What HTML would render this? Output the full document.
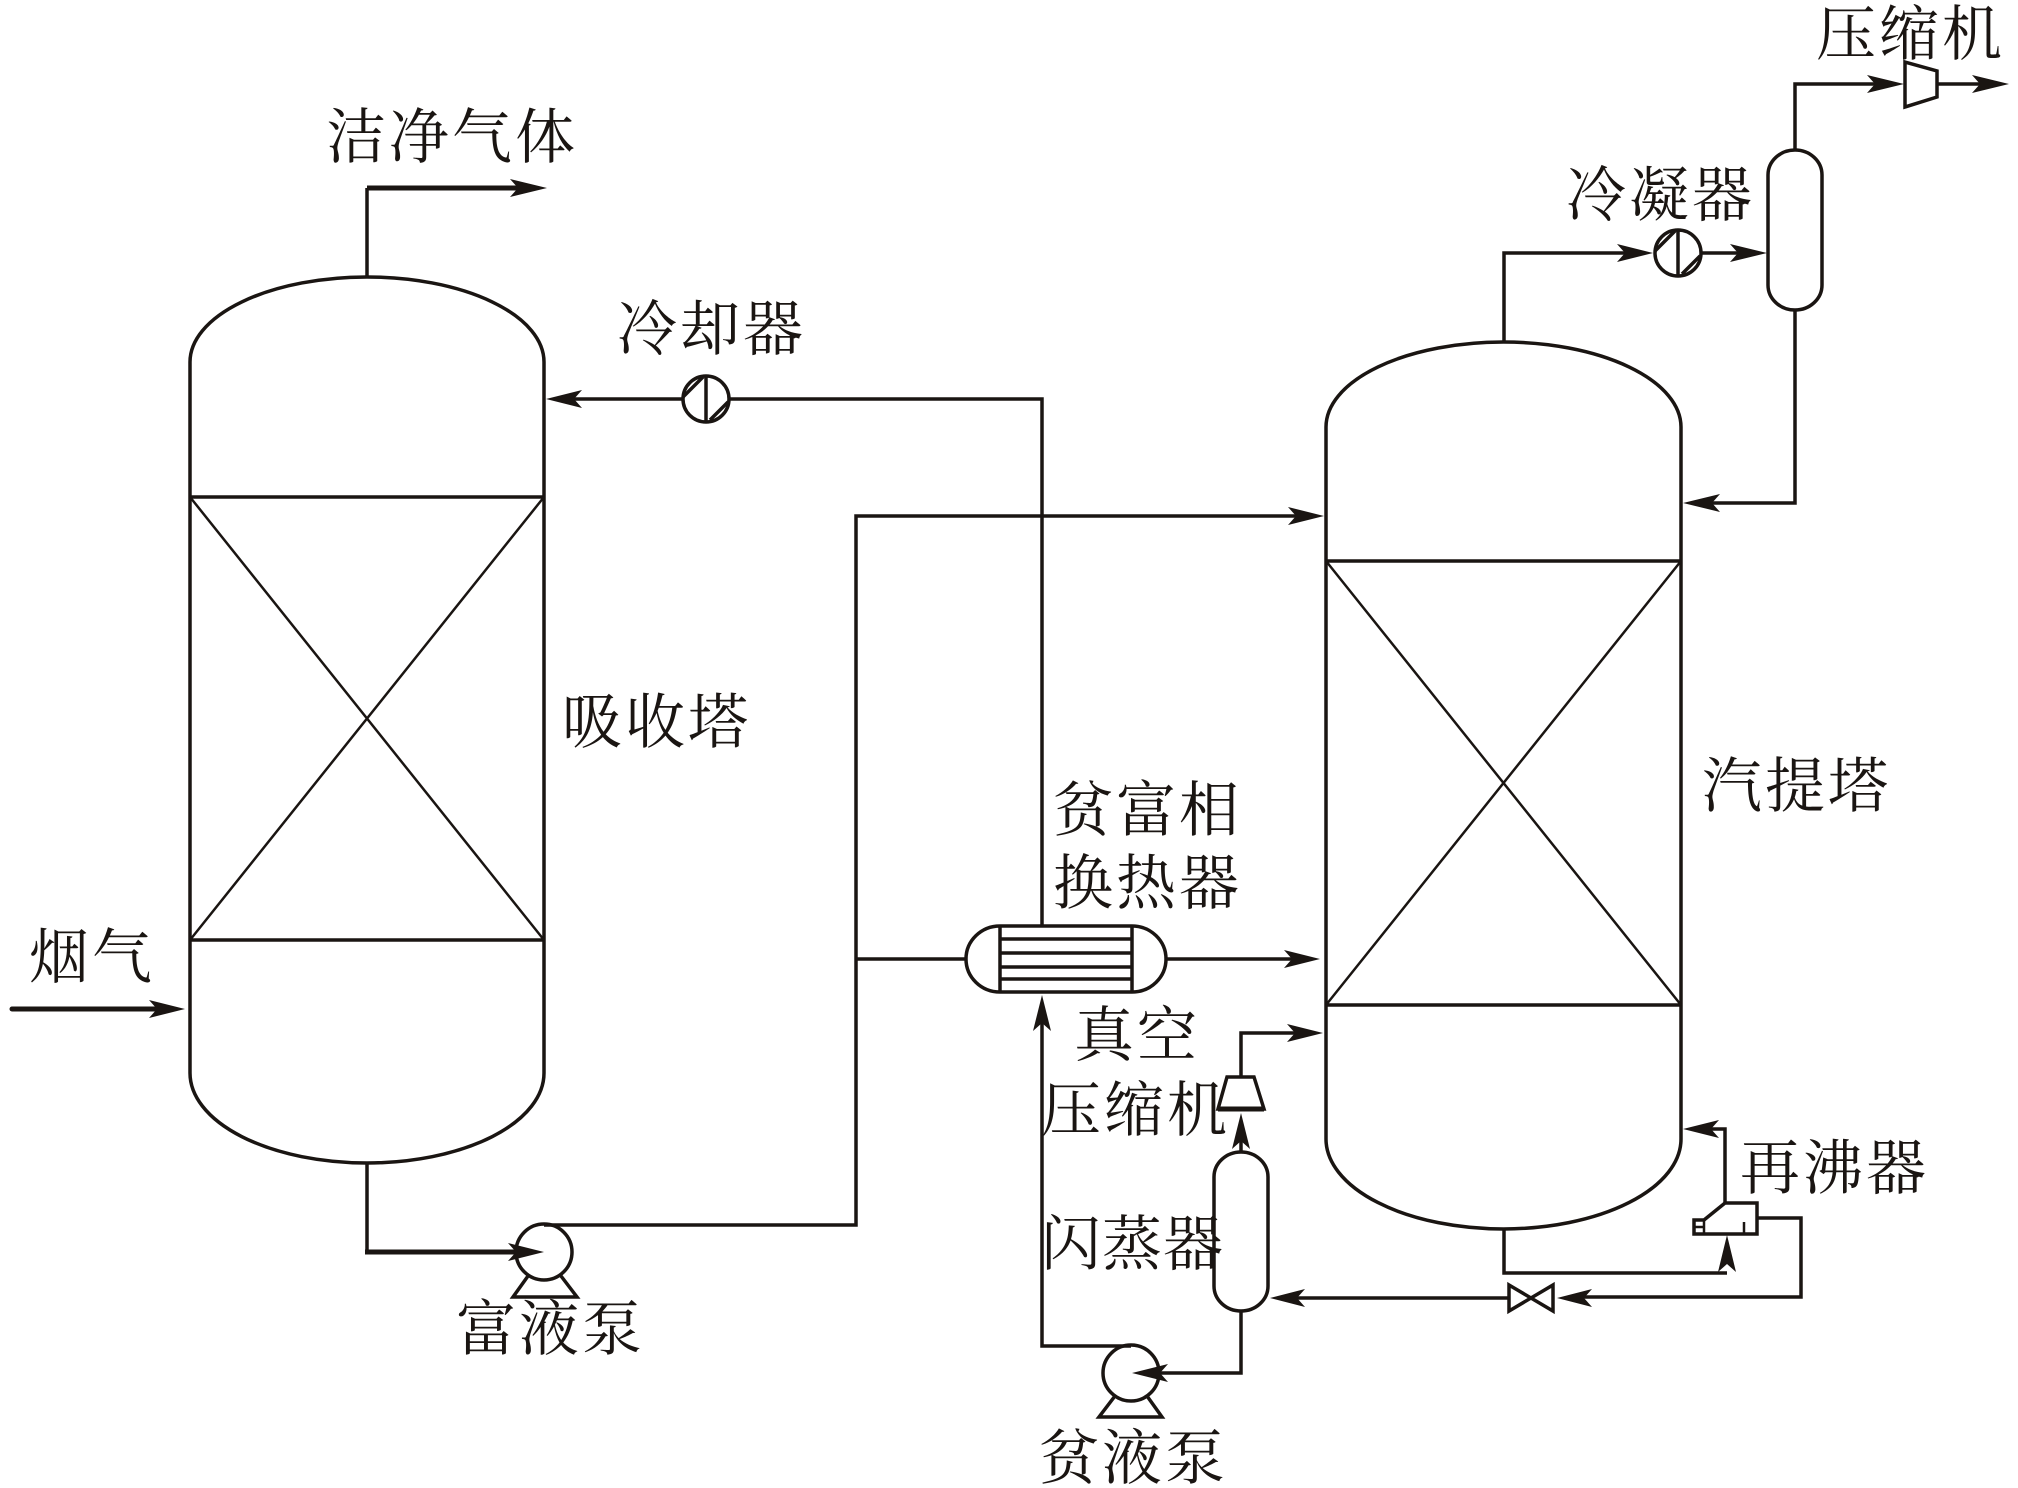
<!DOCTYPE html>
<html>
<head>
<meta charset="utf-8">
<style>
html,body{margin:0;padding:0;background:#fff;}
svg{display:block;}
text{font-family:"Liberation Serif","Noto Serif CJK SC",serif;font-size:60px;letter-spacing:3px;fill:#1a1512;}
.l{fill:none;stroke:#1a1512;stroke-width:3.5;}
.t{fill:none;stroke:#1a1512;stroke-width:2.5;}
.b{fill:none;stroke:#1a1512;stroke-width:5;}
polygon.a{fill:#1a1512;stroke:none;}
</style>
</head>
<body>
<svg width="2018" height="1488" viewBox="0 0 2018 1488" xmlns="http://www.w3.org/2000/svg">
<rect width="2018" height="1488" fill="#fff"/>

<!-- absorber -->
<path class="l" d="M190,362 A177,85 0 0 1 544,362 V1073 A177,90 0 0 1 190,1073 Z"/>
<path class="l" d="M190,497 H544 M190,940 H544"/>
<path class="t" d="M190,497 L544,940 M544,497 L190,940"/>

<!-- stripper -->
<path class="l" d="M1326,427 A177.5,85 0 0 1 1681,427 V1139 A177.5,90 0 0 1 1326,1139 Z"/>
<path class="l" d="M1326,561 H1681 M1326,1005 H1681"/>
<path class="t" d="M1326,561 L1681,1005 M1681,561 L1326,1005"/>

<!-- clean gas -->
<path class="l" d="M367,277 V188"/>
<path class="b" d="M367,188 H520"/>

<!-- flue gas -->
<path class="b" stroke-linecap="round" d="M12,1009 H160"/>

<!-- rich line -->
<path class="l" d="M367,1163 V1252"/>
<path class="b" d="M365,1252 H520"/>
<path class="l" d="M544,1225 H856 V516 H1300"/>
<path class="l" d="M856,959 H966"/>

<!-- rich pump -->
<circle class="l" cx="544" cy="1252" r="28"/>
<path class="l" d="M528,1276 L513,1297 H577 L561,1276"/>

<!-- cooler line -->
<path class="l" d="M570,399 H683 M729,399 H1042 V926"/>
<circle class="l" cx="706" cy="399" r="23"/>
<path class="l" d="M706,376 V422 M683,397 L703,377 M710,420 L728,402"/>

<!-- heat exchanger -->
<path class="l" d="M1000,926 H1132 A34,33 0 0 1 1132,992 H1000 A34,33 0 0 1 1000,926 Z"/>
<path class="l" d="M1000,926 V992 M1132,926 V992"/>
<path class="l" d="M1000,939 H1132 M1000,953 H1132 M1000,967 H1132 M1000,979 H1132"/>
<path class="l" d="M1166,959 H1295"/>

<!-- lean line -->
<path class="l" d="M1042,1020 V1346 H1131"/>
<circle class="l" cx="1131" cy="1373" r="28"/>
<path class="l" d="M1115,1396 L1099,1417 H1162 L1147,1396"/>
<path class="l" d="M1160,1373 H1241 V1311"/>

<!-- flash drum -->
<path class="l" d="M1214,1177 A27,25 0 0 1 1268,1177 V1286 A27,25 0 0 1 1214,1286 Z"/>
<path class="l" d="M1241,1152 V1135"/>

<!-- vacuum compressor -->
<path class="l" d="M1227,1077 H1254 L1264,1109 H1218 Z"/>
<path class="b" d="M1218,1109 H1264"/>
<path class="l" d="M1241,1077 V1033 H1300"/>

<!-- stripper bottom, reboiler -->
<path class="l" d="M1504,1229 V1273 H1727"/>
<path class="l" d="M1725,1203 H1757 V1234 H1694 V1220 H1704 Z"/>
<path class="t" d="M1704,1220 V1234 M1694,1227 H1704 M1744,1222 V1234"/>
<path class="l" d="M1725,1203 V1129 H1700"/>
<path class="l" d="M1757,1218 H1801 V1297 H1575"/>
<path class="l" d="M1508,1298 H1290"/>

<!-- valve -->
<path class="l" d="M1509,1285 L1553,1311 V1285 L1509,1311 Z"/>

<!-- stripper top, condenser -->
<path class="l" d="M1504,342 V253 H1630"/>
<circle class="l" cx="1678" cy="253" r="23"/>
<path class="l" d="M1678,230 V276 M1655,251 L1675,231 M1682,274 L1700,256"/>
<path class="l" d="M1701,253 H1740"/>
<path class="l" d="M1768,175 A27,25 0 0 1 1822,175 V285 A27,25 0 0 1 1768,285 Z"/>
<path class="l" d="M1795,150 V84 H1880"/>
<path class="l" d="M1795,310 V503 H1700"/>

<!-- top compressor -->
<path class="l" d="M1905,62 L1937,71 V97 L1905,107 Z"/>
<path class="l" d="M1937,84 H1985"/>

<!-- arrowheads -->
<polygon class="a" points="547,188 510,179 518,188 510,197"/>
<polygon class="a" points="546,399 582,390 574,399 582,408"/>
<polygon class="a" points="1324,516 1288,507 1296,516 1288,525"/>
<polygon class="a" points="185,1009 149,1000 157,1009 149,1018"/>
<polygon class="a" points="544,1252 508,1243 516,1252 508,1261"/>
<polygon class="a" points="1320,959 1284,950 1292,959 1284,968"/>
<polygon class="a" points="1323,1033 1287,1024 1295,1033 1287,1042"/>
<polygon class="a" points="1042,995 1033,1031 1042,1023 1051,1031"/>
<polygon class="a" points="1241,1113 1232,1149 1241,1141 1250,1149"/>
<polygon class="a" points="1683,503 1720,494 1712,503 1720,512"/>
<polygon class="a" points="1683,1129 1719,1120 1711,1129 1719,1138"/>
<polygon class="a" points="1727,1235 1718,1272 1727,1264 1736,1272"/>
<polygon class="a" points="1557,1298 1592,1289 1584,1298 1592,1307"/>
<polygon class="a" points="1270,1298 1305,1289 1297,1298 1305,1307"/>
<polygon class="a" points="1132,1373 1168,1364 1160,1373 1168,1382"/>
<polygon class="a" points="1653,253 1617,244 1625,253 1617,262"/>
<polygon class="a" points="1767,253 1730,244 1738,253 1730,262"/>
<polygon class="a" points="1904,84 1867,75 1875,84 1867,93"/>
<polygon class="a" points="2009,84 1972,75 1980,84 1972,93"/>

<!-- labels -->
<text x="326" y="158">洁净气体</text>
<text x="617" y="350">冷却器</text>
<text x="1816" y="55">压缩机</text>
<text x="1566" y="216">冷凝器</text>
<text x="562" y="743">吸收塔</text>
<text x="1702" y="807">汽提塔</text>
<text x="1053" y="831">贫富相</text>
<text x="1053" y="904">换热器</text>
<text x="29" y="978">烟气</text>
<text x="1074" y="1056">真空</text>
<text x="1041" y="1131">压缩机</text>
<text x="1740" y="1189">再沸器</text>
<text x="1041" y="1265" style="letter-spacing:1px">闪蒸器</text>
<text x="456" y="1350">富液泵</text>
<text x="1039" y="1479">贫液泵</text>
</svg>
</body>
</html>
